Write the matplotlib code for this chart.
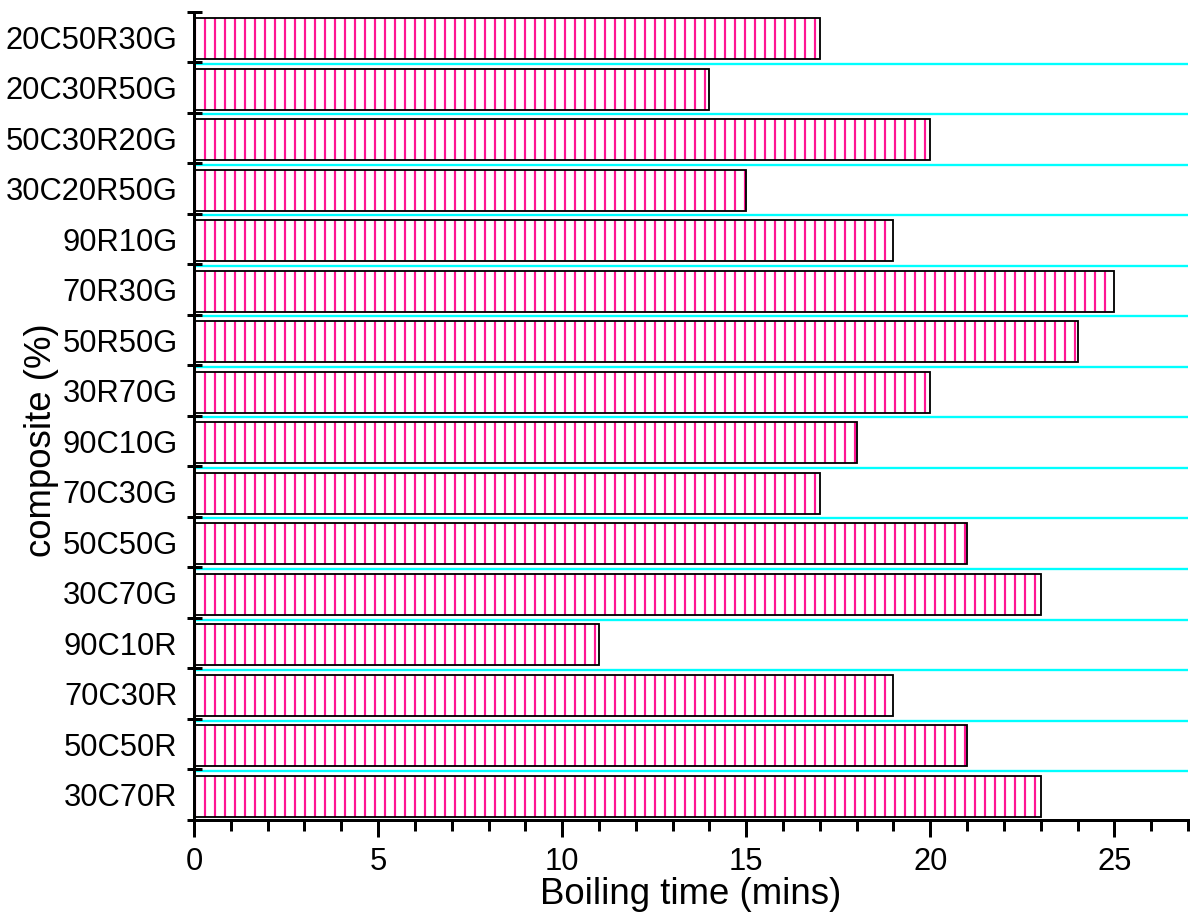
import matplotlib
matplotlib.use("Agg")
import matplotlib.pyplot as plt
import numpy as np

categories = ["30C70R", "50C50R", "70C30R", "90C10R", "30C70G", "50C50G",
              "70C30G", "90C10G", "30R70G", "50R50G", "70R30G", "90R10G",
              "30C20R50G", "50C30R20G", "20C30R50G", "20C50R30G"]
boiling_time = [23, 21, 19, 11, 23, 21, 17, 18, 20, 24, 25, 19, 15, 20, 14, 17]
x_ticks = [0, 5, 10, 15, 20, 25]

plt.rcParams['font.family'] = ['Liberation Sans', 'DejaVu Sans']
plt.rcParams['hatch.linewidth'] = 1.3

DPI = 120
fig = plt.figure(figsize=(1192 / DPI, 920 / DPI), dpi=DPI)
ax = fig.add_axes([0.1628, 0.1087, 0.9966 - 0.1628, 0.987 - 0.1087])

pos = np.arange(len(categories))
n = len(categories)

# cyan separators at internal band boundaries
for b in np.arange(0.5, n - 0.5, 1.0):
    ax.axhline(b - 0.03, color='#00FFFF', lw=1.4, zorder=1)

ax.barh(pos - 0.03, boiling_time, height=0.82, color='white', edgecolor='#FF1493',
        hatch='||', linewidth=0, zorder=2)
ax.barh(pos - 0.03, boiling_time, height=0.82, fill=False, edgecolor='black',
        linewidth=1.1, zorder=3)

ax.set_xlim(0, 27)
ax.set_ylim(-0.5, n - 0.5)

ax.set_xticks(x_ticks)
ax.set_xticks(np.arange(0, 28, 1), minor=True)
ax.tick_params(axis='x', which='major', direction='out', length=10, width=1.8,
               labelsize=18.5, pad=6)
ax.tick_params(axis='x', which='minor', direction='out', length=6.5, width=1.8)

ax.set_yticks(np.arange(-0.5, n, 1.0))
ax.set_yticklabels([])
ax.set_yticks(pos, minor=True)
ax.set_yticklabels(categories, minor=True)
ax.tick_params(axis='y', which='major', direction='inout', length=9, width=1.8)
ax.tick_params(axis='y', which='minor', length=0, labelsize=18.5, pad=10)

for s in ['top', 'right']:
    ax.spines[s].set_visible(False)
for s in ['left', 'bottom']:
    ax.spines[s].set_linewidth(1.8)

ax.set_xlabel("Boiling time (mins)", fontsize=22)
ax.xaxis.set_label_coords(0.5, -0.071)
ax.set_ylabel("composite (%)", fontsize=22)
ax.yaxis.set_label_coords(-0.136, 0.47)

fig.savefig("out.png", dpi=DPI)
